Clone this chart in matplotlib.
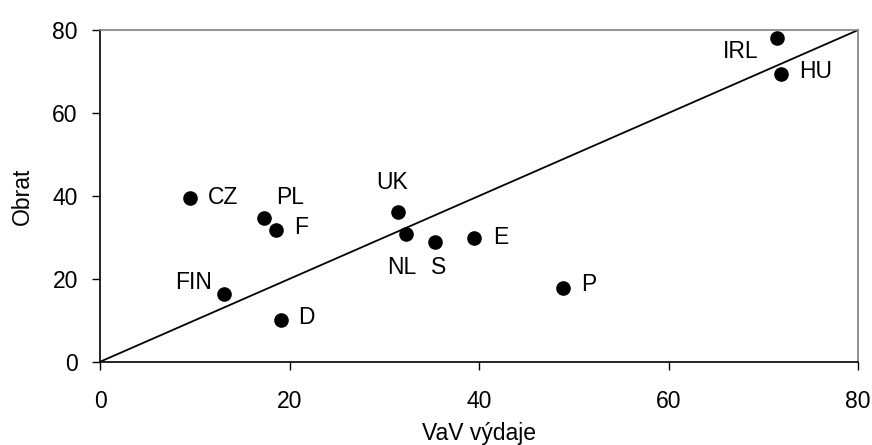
import matplotlib
matplotlib.use("Agg")
import matplotlib.pyplot as plt

plt.rcParams["font.family"] = ["Liberation Sans", "DejaVu Sans"]

# country codes and values
countries = ["CZ", "PL", "F", "FIN", "D", "UK", "NL", "S", "E", "P", "IRL", "HU"]
vav_vydaje = [9.5, 17.3, 18.6, 13.1, 19.1, 31.4, 32.3, 35.3, 39.5, 48.8, 71.4, 71.8]
obrat = [39.6, 34.6, 31.8, 16.3, 10.1, 36.1, 30.7, 28.9, 29.9, 17.8, 78.1, 69.5]
diag = [0, 80]
ticks = [0, 20, 40, 60, 80]

# label placement (offset in pixels, alignment)
label_pos = {
    "CZ":  (18, 0, "left", "center"),
    "PL":  (12, 21, "left", "center"),
    "F":   (18, 2, "left", "center"),
    "FIN": (-12, 12, "right", "center"),
    "D":   (17, 2, "left", "center"),
    "UK":  (-5, 30, "center", "center"),
    "NL":  (-4, -33, "center", "center"),
    "S":   (4, -26, "center", "center"),
    "E":   (19, 0, "left", "center"),
    "P":   (19, 3, "left", "center"),
    "IRL": (-18, -14, "right", "center"),
    "HU":  (19, 2, "left", "center"),
}

FS = 16.5

fig = plt.figure(figsize=(8.72, 4.45), dpi=100)
ax = fig.add_axes([0.1147, 0.187, 0.8695, 0.7456])

ax.plot(diag, diag, color="black", linewidth=1.3, zorder=2)
ax.plot(vav_vydaje, obrat, "o", color="black", markersize=9.5, zorder=3)

for name, x, y in zip(countries, vav_vydaje, obrat):
    dx, dy, ha, va = label_pos[name]
    ax.annotate(name, (x, y), xytext=(dx * 0.72, dy * 0.72), textcoords="offset points",
                ha=ha, va=va, fontsize=FS)

ax.set_xlim(0, 80)
ax.set_ylim(0, 80)
ax.set_xticks(ticks)
ax.set_yticks(ticks)
ax.tick_params(axis="x", direction="out", length=6, width=1, labelsize=FS, pad=14)
ax.tick_params(axis="y", direction="out", length=6, width=1, labelsize=FS, pad=10)

for side in ["top", "right"]:
    ax.spines[side].set_color("#808080")
for side in ["left", "bottom"]:
    ax.spines[side].set_color("black")
for sp in ax.spines.values():
    sp.set_linewidth(1.2)

ax.set_xlabel("VaV výdaje", fontsize=FS, labelpad=7)
ax.set_ylabel("Obrat", fontsize=FS, labelpad=13)

fig.savefig("out.png", dpi=100)
